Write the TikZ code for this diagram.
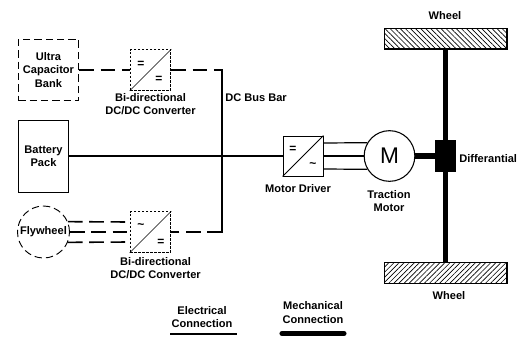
\documentclass[tikz,border=0pt]{standalone}
\usepackage{fontspec}
\setmainfont{Liberation Sans}
\usetikzlibrary{calc,patterns.meta,positioning}
\tikzset{
  caption/.style={font=\bfseries\fontsize{8.3pt}{9.9pt}\selectfont,align=center,inner sep=0pt},
  convbox/.style={draw,dash pattern=on 2pt off 1pt,line width=0.7pt,minimum size=30.5pt,inner sep=0pt},
  drivebox/.style={draw,line width=0.7pt,minimum size=30pt,inner sep=0pt},
  sourcebox/.style={draw,line width=0.7pt,inner sep=0pt},
  symb/.style={font=\bfseries\fontsize{9pt}{9pt}\selectfont,inner sep=0pt},
  wheelbox/.style={draw,line width=1pt,minimum width=92pt,minimum height=15.5pt,inner sep=0pt},
  elec/.style={line width=0.9pt},
  elecdash/.style={line width=1.2pt,dash pattern=on 11pt off 5pt},
  mech/.style={line width=3.8pt}
}
\begin{document}
\begin{tikzpicture}[x=0.75pt,y=-0.75pt]
\useasboundingbox (0,0) rectangle (518,336);
% sources
\node[sourcebox,dash pattern=on 5.5pt off 3pt,minimum width=45.5pt,minimum height=45.5pt,caption] (ultra) at (48.5,70) {Ultra\\Capacitor\\Bank};
\node[sourcebox,minimum width=38pt,minimum height=54pt,caption] (battery) at (43.5,156) {Battery\\Pack};
\node[circle,sourcebox,dash pattern=on 5.5pt off 3pt,minimum size=39pt,caption] (flywheel) at (43.5,232) {Flywheel};
% converters
\node[convbox] (convtop) at (150.5,70) {};
\node[convbox] (convbot) at (150.5,232) {};
\node[drivebox] (driver) at (303,156) {};
\draw[line width=0.5pt] (convtop.south west) -- (convtop.north east);
\draw[line width=0.5pt] (convbot.south west) -- (convbot.north east);
\draw[line width=0.6pt] (driver.south west) -- (driver.north east);
\node[symb] at (141,64) {=};
\node[symb] at (159,79) {=};
\node[symb] at (141,226) {\textasciitilde};
\node[symb] at (161,242) {=};
\node[symb] at (293,149) {=};
\node[symb] at (313,165) {\textasciitilde};
\node[caption,below=2pt of convtop] (convtoplabel) {Bi-directional\\DC/DC Converter};
\node[caption,below=3.5pt of convbot,xshift=3.8pt] (convbotlabel) {Bi-directional\\DC/DC Converter};
\node[caption] (driverlabel) at (298,189) {Motor Driver};
% motor and axle
\node[circle,draw,line width=0.8pt,minimum size=38pt,inner sep=0pt,font=\fontsize{17pt}{17pt}\selectfont] (motor) at (389.5,156) {M};
\node[caption] (motorlabel) at (389,201) {Traction\\Motor};
\node[fill=black,minimum width=15.5pt,minimum height=24pt,inner sep=0pt] (diff) at (445.5,156) {};
\node[caption,anchor=west] (difflabel) at (459,159) {Differantial};
\node[wheelbox,pattern={Lines[angle=-45,distance=2.7pt,line width=0.5pt]}] (wheeltop) at (445.5,38.5) {};
\node[wheelbox,pattern={Lines[angle=45,distance=2.7pt,line width=0.5pt]}] (wheelbot) at (445.5,273) {};
\node[caption] (wheeltoplabel) at (445,16) {Wheel};
\node[caption] (wheelbotlabel) at (449,296) {Wheel};
\draw[mech] (wheeltop) -- (diff);
\draw[mech] (diff) -- (wheelbot);
\draw[mech] (motor.east) -- (diff.west);
% bus bar
\coordinate (bustop) at (222,70);
\coordinate (busbot) at (222,232);
\node[caption,anchor=west] (buslabel) at (225,98) {DC Bus Bar};
\draw[elecdash] (ultra.east) -- (convtop.west);
\draw[elecdash] (convtop.east) -- (bustop);
\draw[elec,line cap=rect,line width=1.2pt] (bustop) -- (busbot);
\draw[elecdash] (busbot) -- (convbot.east);
\draw[elec] (battery.east) -- (driver.west);
\draw[elecdash] (flywheel.23) -- ($(convbot.west)+(0,-10)$);
\draw[elecdash] (flywheel.east) -- (convbot.west);
\draw[elecdash] (flywheel.-23) -- ($(convbot.west)+(0,10)$);
\draw[elec] ($(driver.east)+(0,-13)$) -- (motor.149);
\draw[elec] (driver.east) -- (motor.west);
\draw[elec] ($(driver.east)+(0,13)$) -- (motor.211);
% legend
\node[caption] (eleclabel) at (202,317) {Electrical\\Connection};
\node[caption] (mechlabel) at (313,312.5) {Mechanical\\Connection};
\coordinate (elecleft) at (170,334);
\coordinate (elecright) at (237,334);
\coordinate (mechleft) at (282,333.5);
\coordinate (mechright) at (344,333.5);
\draw[elec] (elecleft) -- (elecright);
\draw[mech,line cap=round] (mechleft) -- (mechright);
\end{tikzpicture}
\end{document}
